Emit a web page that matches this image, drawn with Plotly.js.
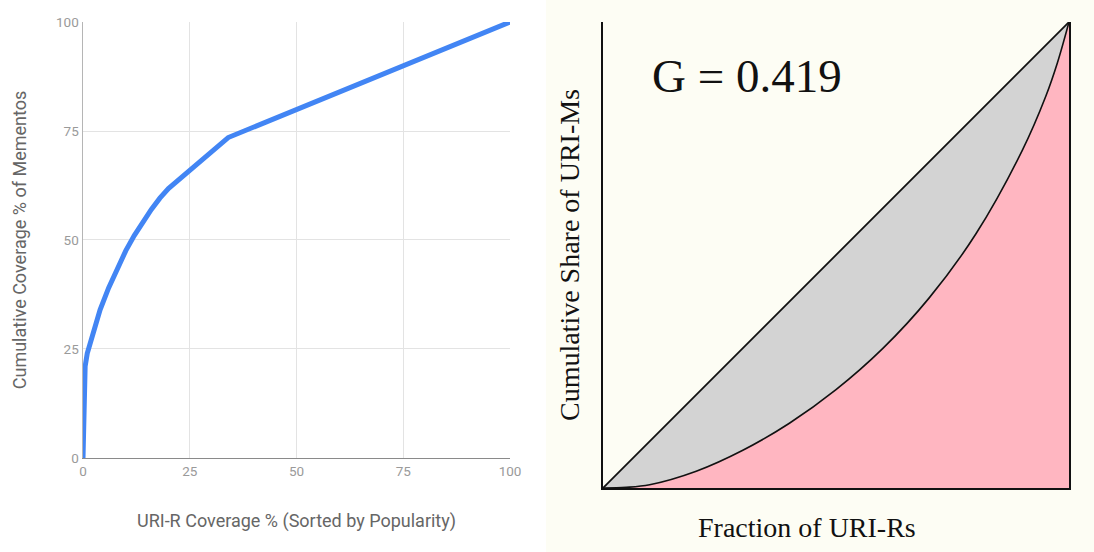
<!DOCTYPE html>
<html>
<head>
<meta charset="utf-8">
<script src="https://cdn.plot.ly/plotly-3.0.1.min.js"></script>
<style>html,body{margin:0;padding:0;background:#fff;}#chart{width:1094px;height:552px;}</style>
</head>
<body>
<div id="chart"></div>
<script>
// Left chart: cumulative coverage
const uriRCoverage = [0, 0.5, 1, 2, 3, 4, 6, 8, 10, 12, 14, 16, 18, 20, 34, 100];
const mementoCoverage = [0, 21, 24, 27.5, 31, 34, 39, 43.5, 47.5, 51, 54.2, 57, 59.6, 61.8, 73.5, 100];
const leftTicks = [0, 25, 50, 75, 100];

// Right chart: Lorenz curve
const lorenzX = [0, 0.05, 0.1, 0.2, 0.3, 0.4, 0.5, 0.6, 0.7, 0.8, 0.9, 0.95, 0.975, 1];
const lorenzY = [0, 0.0015, 0.007, 0.036, 0.081, 0.139, 0.211, 0.299, 0.408, 0.545, 0.725, 0.84, 0.912, 1];
const equalityX = [0, 1];
const equalityY = [0, 1];
const giniText = "G = 0.419";

const traces = [
  {
    x: uriRCoverage, y: mementoCoverage, xaxis: 'x', yaxis: 'y',
    type: 'scatter', mode: 'lines',
    line: {color: '#4285F4', width: 5}
  },
  {
    x: lorenzX, y: lorenzY, xaxis: 'x2', yaxis: 'y2',
    type: 'scatter', mode: 'lines', fill: 'tozeroy', fillcolor: '#ffb6c1',
    line: {color: '#111', width: 1.6, shape: 'spline', smoothing: 1}
  },
  {
    x: equalityX, y: equalityY, xaxis: 'x2', yaxis: 'y2',
    type: 'scatter', mode: 'lines', fill: 'tonexty', fillcolor: '#d3d3d3',
    line: {color: '#111', width: 1.8}
  }
];

const serif = '"Liberation Serif", "DejaVu Serif", serif';

const layout = {
  width: 1094, height: 552,
  margin: {l: 83, r: 25, t: 22, b: 64},
  paper_bgcolor: '#ffffff',
  plot_bgcolor: '#ffffff',
  showlegend: false,
  font: {family: 'Roboto, sans-serif'},
  xaxis: {
    domain: [0, 0.4331], range: [0, 100],
    tickvals: leftTicks, ticktext: leftTicks.map(String),
    showgrid: true, gridcolor: '#e3e3e3', gridwidth: 1,
    zeroline: false, showline: true, linecolor: '#8a8a8a', linewidth: 1.5,
    ticks: '', tickfont: {size: 13.5, color: '#9a9a9a'},
    title: {text: 'URI-R Coverage % (Sorted by Popularity)', font: {size: 18, color: '#666'}, standoff: 36},
    fixedrange: true
  },
  yaxis: {
    domain: [0.0644, 1], range: [0, 100],
    tickvals: leftTicks, ticktext: leftTicks.map(String),
    showgrid: true, gridcolor: '#e3e3e3', gridwidth: 1,
    zeroline: false, showline: true, linecolor: '#b5b5b5', linewidth: 1.5,
    ticks: '', tickfont: {size: 13.5, color: '#9a9a9a'},
    title: {text: 'Cumulative Coverage % of Mementos', font: {size: 18, color: '#666'}, standoff: 24},
    fixedrange: true
  },
  xaxis2: {
    domain: [0.5274, 1], range: [0, 1], anchor: 'y2',
    showgrid: false, zeroline: false, showticklabels: false, ticks: '',
    showline: true, linecolor: '#111', linewidth: 2,
    fixedrange: true
  },
  yaxis2: {
    domain: [0, 1], range: [0, 1], anchor: 'x2',
    showgrid: false, zeroline: false, showticklabels: false, ticks: '',
    showline: true, mirror: true, linecolor: '#111', linewidth: 2,
    title: {text: 'Cumulative Share of URI-Ms', font: {family: serif, size: 28, color: '#111'}, standoff: 13},
    fixedrange: true
  },
  shapes: [
    {type: 'rect', xref: 'paper', yref: 'paper', x0: 0.4696, x1: 1.03, y0: -0.14, y1: 1.05,
     fillcolor: '#fdfdf4', line: {width: 0}, layer: 'below'}
  ],
  annotations: [
    {xref: 'x2', yref: 'y2', x: 0.1, y: 0.885, xanchor: 'left', yanchor: 'middle',
     text: giniText, showarrow: false, font: {family: serif, size: 47, color: '#111'}},
    {xref: 'paper', yref: 'paper', x: 0.7343, y: -0.0858, xanchor: 'center', yanchor: 'middle',
     text: 'Fraction of URI-Rs', showarrow: false, font: {family: serif, size: 28, color: '#111'}}
  ]
};

Plotly.newPlot('chart', traces, layout, {displayModeBar: false, staticPlot: true});
</script>
</body>
</html>
